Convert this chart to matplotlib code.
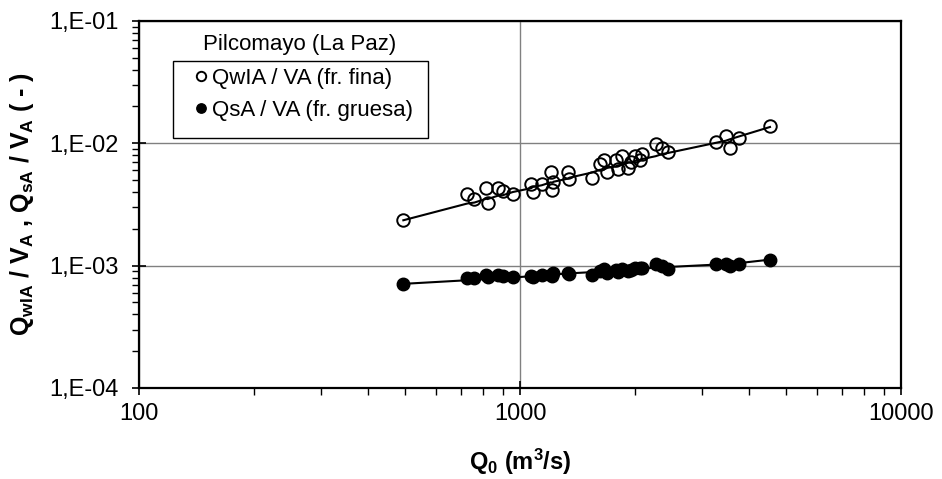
import matplotlib
matplotlib.use("Agg")
import matplotlib.pyplot as plt
from matplotlib.ticker import LogLocator, NullFormatter
from matplotlib.patches import Rectangle

plt.rcParams['font.family'] = ['Liberation Sans', 'DejaVu Sans']
plt.rcParams['mathtext.fontset'] = 'custom'
plt.rcParams['mathtext.rm'] = 'Liberation Sans'
plt.rcParams['mathtext.bf'] = 'Liberation Sans:bold'
plt.rcParams['mathtext.it'] = 'Liberation Sans:italic'

# Caudal Q0 (m3/s), ordenado
caudal = [494, 727, 759, 815, 822, 877, 900, 958, 1070, 1080, 1140, 1205, 1215,
          1224, 1334, 1348, 1542, 1622, 1662, 1695, 1786, 1805, 1853, 1924, 1956,
          2004, 2065, 2094, 2271, 2355, 2450, 3269, 3467, 3558, 3763, 4530]

# QwIA / VA (fraccion fina), medido
fina = [2.35e-3, 3.82e-3, 3.48e-3, 4.33e-3, 3.28e-3, 4.33e-3, 4.08e-3, 3.82e-3,
        4.66e-3, 3.97e-3, 4.61e-3, 5.78e-3, 4.12e-3, 4.84e-3, 5.78e-3, 5.14e-3,
        5.21e-3, 6.82e-3, 7.30e-3, 5.86e-3, 7.30e-3, 6.20e-3, 7.87e-3, 6.24e-3,
        7.08e-3, 7.87e-3, 7.26e-3, 8.17e-3, 9.81e-3, 9.22e-3, 8.55e-3, 1.025e-2,
        1.148e-2, 9.15e-3, 1.099e-2, 1.386e-2]

# QsA / VA (fraccion gruesa), medido
gruesa = [7.08e-4, 7.93e-4, 7.93e-4, 8.44e-4, 8.12e-4, 8.44e-4, 8.28e-4, 8.08e-4,
          8.28e-4, 8.12e-4, 8.44e-4, 8.44e-4, 8.28e-4, 8.68e-4, 8.71e-4, 8.60e-4,
          8.44e-4, 9.01e-4, 9.39e-4, 8.71e-4, 9.27e-4, 8.93e-4, 9.39e-4, 8.98e-4,
          9.27e-4, 9.54e-4, 9.57e-4, 9.57e-4, 1.038e-3, 1.0e-3, 9.45e-4, 1.038e-3,
          1.038e-3, 9.87e-4, 1.038e-3, 1.12e-3]

# curvas calculadas (lineas)
fina_ajuste = [2.35e-3, 3.22e-3, 3.28e-3, 3.52e-3, 3.50e-3, 3.74e-3, 3.76e-3, 4.00e-3,
               4.30e-3, 4.40e-3, 4.54e-3, 4.80e-3, 4.76e-3, 4.85e-3, 5.14e-3, 5.24e-3,
               5.76e-3, 6.08e-3, 6.12e-3, 6.30e-3, 6.48e-3, 6.60e-3, 6.68e-3, 6.95e-3,
               6.98e-3, 7.18e-3, 7.28e-3, 7.44e-3, 7.85e-3, 8.15e-3, 8.35e-3, 1.01e-2,
               1.05e-2, 1.08e-2, 1.14e-2, 1.36e-2]
gruesa_ajuste = [7.10e-4, 7.60e-4, 7.70e-4, 7.80e-4, 7.80e-4, 7.90e-4, 7.95e-4, 8.00e-4,
                 8.20e-4, 8.25e-4, 8.35e-4, 8.45e-4, 8.45e-4, 8.50e-4, 8.60e-4, 8.65e-4,
                 8.85e-4, 8.95e-4, 9.00e-4, 9.05e-4, 9.15e-4, 9.15e-4, 9.20e-4, 9.30e-4,
                 9.30e-4, 9.40e-4, 9.45e-4, 9.50e-4, 9.60e-4, 9.70e-4, 9.75e-4, 1.02e-3,
                 1.03e-3, 1.035e-3, 1.05e-3, 1.12e-3]

xticks = [100, 1000, 10000]
xtick_labels = ['100', '1000', '10000']
yticks = [1e-4, 1e-3, 1e-2, 1e-1]
ytick_labels = ['1,E-04', '1,E-03', '1,E-02', '1,E-01']

fig = plt.figure(figsize=(9.42, 4.79), dpi=100)
ax = fig.add_axes([0.1476, 0.1900, 0.8089, 0.7662])

ax.set_xscale('log')
ax.set_yscale('log')
ax.set_xlim(100, 10000)
ax.set_ylim(1e-4, 1e-1)

# lineas calculadas
ax.plot(caudal, fina_ajuste, color='black', lw=1.5, zorder=3)
ax.plot(caudal, gruesa_ajuste, color='black', lw=1.5, zorder=3)

# puntos medidos
ax.plot(caudal, fina, 'o', mfc='none', mec='black', ms=9, mew=1.4, zorder=4,
        label='QwIA / VA (fr. fina)')
ax.plot(caudal, gruesa, 'o', mfc='black', mec='black', ms=9, mew=1.0, zorder=4,
        label='QsA / VA (fr. gruesa)')

# ejes
ax.set_xticks(xticks)
ax.set_xticklabels(xtick_labels)
ax.set_yticks(yticks)
ax.set_yticklabels(ytick_labels)
ax.xaxis.set_minor_locator(LogLocator(base=10, subs=range(2, 10)))
ax.yaxis.set_minor_locator(LogLocator(base=10, subs=range(2, 10)))
ax.xaxis.set_minor_formatter(NullFormatter())
ax.yaxis.set_minor_formatter(NullFormatter())
ax.tick_params(which='major', direction='inout', length=10, width=1.2,
               labelsize=17, colors='black')
ax.tick_params(axis='y', which='major', pad=10)
ax.tick_params(axis='x', which='major', pad=6)
ax.tick_params(which='minor', direction='out', length=5, width=1.0)
for s in ax.spines.values():
    s.set_linewidth(1.6)
    s.set_color('black')

ax.grid(which='major', color='#808080', lw=1.0)

ax.set_xlabel(r'$\mathbf{Q_0}$ (m$\mathbf{^3}$/s)', fontsize=17, fontweight='bold')
ax.set_ylabel(r'$\mathbf{Q_{wIA}}$ / $\mathbf{V_A}$ , $\mathbf{Q_{sA}}$ / $\mathbf{V_A}$ ( - )',
              fontsize=18, fontweight='bold')
ax.xaxis.set_label_coords(0.5, -0.16)
ax.yaxis.set_label_coords(-0.135, 0.5)

# leyenda
ax.text(0.2113, 0.9346, 'Pilcomayo (La Paz)', transform=ax.transAxes,
        ha='center', va='center', fontsize=16)
ax.add_patch(Rectangle((0.0446, 0.681), 0.3347, 0.210, transform=ax.transAxes,
                       fill=True, fc='white', ec='black', lw=1.0, zorder=5))
leg = ax.legend(loc='upper left', bbox_to_anchor=(0.0696, 0.873), frameon=False,
                fontsize=16, borderpad=0, borderaxespad=0, handlelength=0.8,
                handletextpad=0.1, labelspacing=0.5, markerscale=0.75)
leg.set_zorder(6)

fig.savefig('out.png', dpi=100)
